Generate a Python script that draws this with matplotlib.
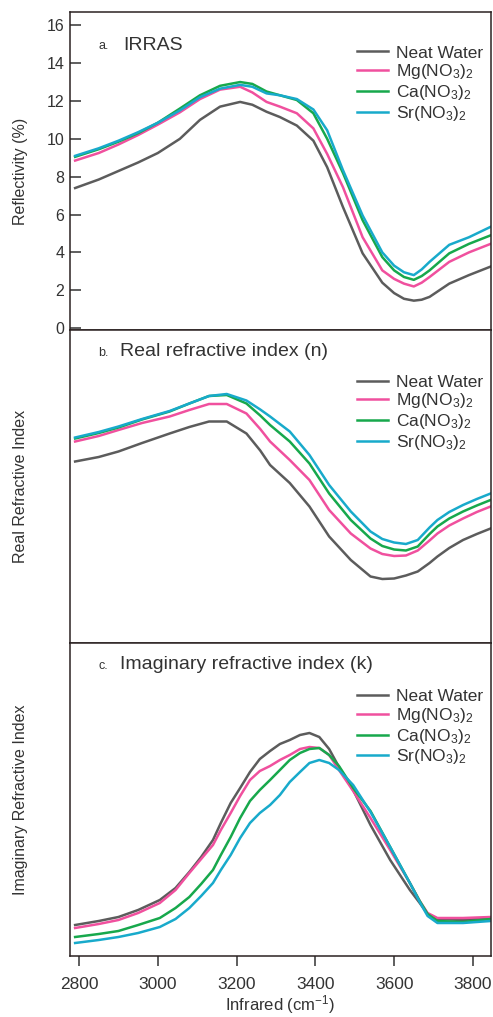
import numpy as np
import matplotlib
matplotlib.use("Agg")
import matplotlib.pyplot as plt

plt.rcParams["font.family"] = ["Liberation Sans", "DejaVu Sans"]
plt.rcParams["mathtext.fontset"] = "custom"
plt.rcParams["mathtext.rm"] = "Liberation Sans"
plt.rcParams["mathtext.it"] = "Liberation Sans"
plt.rcParams["mathtext.default"] = "regular"

# ---- data ----
labels = ["Neat Water", "Mg(NO$_3$)$_2$", "Ca(NO$_3$)$_2$", "Sr(NO$_3$)$_2$"]
colors = ["#5c5c5c", "#f0509e", "#17a84c", "#18aacb"]

# a. IRRAS reflectivity (%)
wn_a = [2790, 2850, 2900, 2950, 3000, 3056, 3107, 3158, 3209, 3240,
        3276, 3310, 3353, 3395, 3430, 3470, 3520, 3570, 3600, 3625,
        3650, 3670, 3690, 3740, 3790, 3845]
refl_water = [7.4, 7.85, 8.3, 8.75, 9.25, 10.0, 11.0, 11.7, 11.95, 11.8,
              11.43, 11.15, 10.7, 9.9, 8.5, 6.4, 3.95, 2.4, 1.85, 1.55,
              1.45, 1.5, 1.65, 2.35, 2.8, 3.25]
refl_mg = [8.85, 9.25, 9.7, 10.2, 10.75, 11.4, 12.1, 12.6, 12.75, 12.45,
           11.95, 11.7, 11.35, 10.55, 9.2, 7.45, 4.8, 3.05, 2.6, 2.35,
           2.2, 2.4, 2.7, 3.5, 4.0, 4.45]
refl_ca = [9.05, 9.45, 9.85, 10.3, 10.85, 11.6, 12.3, 12.8, 13.0, 12.9,
           12.5, 12.3, 12.05, 11.35, 10.0, 8.2, 5.7, 3.75, 3.05, 2.7,
           2.55, 2.75, 3.05, 3.95, 4.45, 4.9]
refl_sr = [9.1, 9.5, 9.9, 10.35, 10.85, 11.5, 12.2, 12.65, 12.85, 12.75,
           12.4, 12.3, 12.1, 11.55, 10.45, 8.35, 5.95, 4.0, 3.3, 2.95,
           2.8, 3.1, 3.5, 4.4, 4.8, 5.35]

# b. real refractive index n
wn_b = [2790, 2850, 2900, 2960, 3030, 3080, 3130, 3175, 3225, 3260,
        3285, 3335, 3385, 3435, 3490, 3540, 3570, 3600, 3630, 3660,
        3690, 3710, 3740, 3775, 3810, 3845]
n_water = [1.363, 1.372, 1.383, 1.400, 1.419, 1.432, 1.443, 1.443, 1.419, 1.385,
           1.356, 1.320, 1.273, 1.213, 1.166, 1.133, 1.128, 1.129, 1.135, 1.143,
           1.160, 1.173, 1.190, 1.206, 1.218, 1.229]
n_mg = [1.403, 1.414, 1.426, 1.440, 1.453, 1.466, 1.478, 1.478, 1.459, 1.428,
        1.403, 1.366, 1.326, 1.266, 1.219, 1.189, 1.178, 1.174, 1.175, 1.185,
        1.205, 1.219, 1.235, 1.249, 1.262, 1.273]
n_ca = [1.409, 1.420, 1.431, 1.447, 1.463, 1.479, 1.494, 1.496, 1.479, 1.455,
        1.436, 1.403, 1.359, 1.299, 1.246, 1.209, 1.194, 1.187, 1.185, 1.193,
        1.218, 1.233, 1.249, 1.263, 1.275, 1.286]
n_sr = [1.411, 1.422, 1.433, 1.448, 1.464, 1.479, 1.494, 1.498, 1.485, 1.467,
        1.453, 1.423, 1.376, 1.316, 1.263, 1.223, 1.208, 1.201, 1.198, 1.206,
        1.231, 1.246, 1.262, 1.276, 1.288, 1.299]

# c. imaginary refractive index k
wn_c = [2790, 2850, 2900, 2950, 3005, 3045, 3080, 3110, 3140, 3160,
        3185, 3209, 3234, 3259, 3285, 3310, 3335, 3361, 3385, 3410,
        3435, 3460, 3496, 3540, 3590, 3640, 3665, 3685, 3710, 3775, 3845]
k_water = [0.031, 0.035, 0.039, 0.046, 0.056, 0.068, 0.084, 0.099, 0.116, 0.133,
           0.153, 0.168, 0.184, 0.197, 0.205, 0.212, 0.216, 0.221, 0.223, 0.219,
           0.207, 0.189, 0.166, 0.131, 0.096, 0.066, 0.053, 0.042, 0.037, 0.036, 0.038]
k_mg = [0.028, 0.032, 0.036, 0.043, 0.053, 0.066, 0.083, 0.097, 0.111, 0.126,
        0.143, 0.160, 0.176, 0.185, 0.190, 0.196, 0.201, 0.207, 0.209, 0.208,
        0.201, 0.186, 0.165, 0.138, 0.106, 0.073, 0.055, 0.043, 0.038, 0.038, 0.039]
k_ca = [0.019, 0.022, 0.025, 0.031, 0.038, 0.048, 0.059, 0.072, 0.086, 0.101,
        0.119, 0.138, 0.155, 0.166, 0.176, 0.186, 0.196, 0.203, 0.207, 0.208,
        0.201, 0.190, 0.168, 0.145, 0.109, 0.073, 0.055, 0.042, 0.035, 0.034, 0.037]
k_sr = [0.013, 0.016, 0.019, 0.023, 0.029, 0.037, 0.048, 0.060, 0.073, 0.086,
        0.101, 0.118, 0.133, 0.143, 0.151, 0.161, 0.174, 0.184, 0.193, 0.196,
        0.193, 0.186, 0.171, 0.144, 0.109, 0.073, 0.054, 0.040, 0.033, 0.033, 0.035]

x_ticks = [2800, 3000, 3200, 3400, 3600, 3800]
refl_ticks = [0, 2, 4, 6, 8, 10, 12, 14, 16]

panels = [
    (wn_a, [refl_water, refl_mg, refl_ca, refl_sr], (-0.1, 16.7),
     "a.", "IRRAS", "Reflectivity (%)", 0.895, 0.896, 0.126),
    (wn_b, [n_water, n_mg, n_ca, n_sr], (1.0, 1.626),
     "b.", "Real refractive index (n)", "Real Refractive Index", 0.858, 0.93, 0.119),
    (wn_c, [k_water, k_mg, k_ca, k_sr], (0.0, 0.313),
     "c.", "Imaginary refractive index (k)", "Imaginary Refractive Index", 0.853, 0.932, 0.119),
]

fig = plt.figure(figsize=(4.93, 10.17), dpi=100)
left, width = 70 / 493, 421 / 493
tops = [12, 330, 643]
bottoms = [330, 643, 956]
text_col = "#333333"

for i, (wn, series, ylim, tag, title, ylab, leg_y, title_y, title_x) in enumerate(panels):
    top_px, bot_px = tops[i], bottoms[i]
    ax = fig.add_axes([left, 1 - bot_px / 1017, width, (bot_px - top_px) / 1017])
    for ys, c, lab in zip(series, colors, labels):
        ax.plot(wn, ys, color=c, lw=1.8, label=lab, solid_joinstyle="round")
    ax.set_xlim(2777, 3846)
    ax.set_ylim(*ylim)
    for s in ax.spines.values():
        s.set_color("#2b2222")
        s.set_linewidth(1.1)

    ax.text(0.067, title_y - 0.004, tag, transform=ax.transAxes, fontsize=9,
            color=text_col, va="center")
    ax.text(title_x, title_y, title, transform=ax.transAxes, fontsize=14,
            color=text_col, va="center")
    ax.set_ylabel(ylab, fontsize=11.5, color=text_col)
    ax.yaxis.set_label_coords(-0.1, 0.5)

    leg = ax.legend(loc="upper left", bbox_to_anchor=(0.682, leg_y),
                    frameon=False, fontsize=12.5, handlelength=1.8,
                    handletextpad=0.45, labelspacing=0.1,
                    borderpad=0, borderaxespad=0)
    for t in leg.get_texts():
        t.set_color(text_col)

    if i == 0:
        ax.set_yticks(refl_ticks)
        ax.tick_params(axis="y", direction="in", length=8, width=1.1,
                       labelsize=11.5, colors=text_col, pad=4)
    else:
        ax.set_yticks([])
    if i == 2:
        ax.set_xticks(x_ticks)
        ax.tick_params(axis="x", direction="out", length=7, width=1.1,
                       labelsize=12.5, colors=text_col, pad=8)
        ax.set_xlabel("Infrared (cm$^{-1}$)", fontsize=12, color=text_col,
                      labelpad=1)
    else:
        ax.set_xticks([])

fig.savefig("out.png", dpi=100, facecolor="white")
